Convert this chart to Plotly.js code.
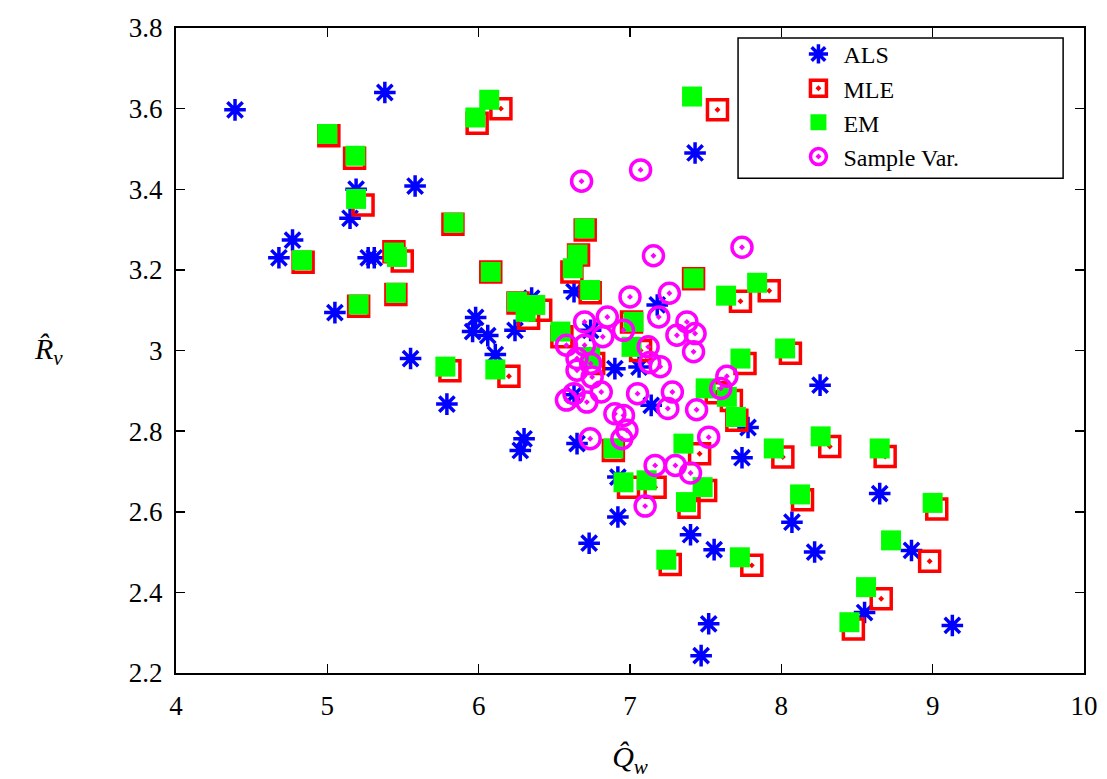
<!DOCTYPE html>
<html>
<head>
<meta charset="utf-8">
<script src="https://cdn.plot.ly/plotly-3.0.1.min.js"></script>
<style>html,body{margin:0;padding:0;background:#fff;}#chart{width:1107px;height:779px;}</style>
</head>
<body>
<div id="chart"></div>
<script>
// ALS estimates
const alsQ = [4.39,5.38,5.58,5.19,5.15,4.77,4.68,5.27,5.31,5.05,5.55,5.79,5.98,5.96,6.06,6.24,6.11,6.35,6.63,6.74,7.18,6.30,6.275,6.65,6.90,7.06,7.14,6.63,6.92,6.92,6.73,7.40,7.556,7.52,7.47,7.78,7.74,7.43,8.256,8.65,8.07,8.22,8.86,8.55,9.13];
const alsR = [3.597,3.64,3.408,3.40,3.328,3.274,3.23,3.23,3.23,3.094,2.98,2.867,3.082,3.047,3.037,3.05,2.99,3.13,3.146,3.05,3.113,2.781,2.752,2.769,2.955,2.959,2.864,2.89,2.686,2.587,2.522,2.543,2.506,2.322,2.243,2.809,2.734,3.49,2.914,2.645,2.574,2.50,2.504,2.35,2.318];

// MLE estimates
const mleQ = [5.01,5.18,5.236,5.83,4.84,5.44,5.495,5.453,5.207,5.99,6.147,7.578,6.704,6.66,6.616,6.08,6.737,7.42,7.73,7.92,6.26,6.41,6.33,6.55,7.01,7.07,6.76,5.81,6.20,7.76,7.57,7.67,7.706,8.06,6.89,6.99,7.166,7.46,7.50,7.39,7.266,7.805,8.01,8.32,8.686,8.14,9.027,8.98,8.66,8.476];
const mleR = [3.533,3.477,3.361,3.313,3.219,3.245,3.222,3.139,3.11,3.564,3.60,3.597,3.299,3.237,3.195,3.195,3.143,3.178,3.122,3.148,3.118,3.10,3.08,3.034,3.071,3.0,2.968,2.95,2.936,2.968,2.895,2.876,2.827,2.993,2.752,2.661,2.661,2.744,2.653,2.611,2.469,2.467,2.736,2.762,2.737,2.63,2.607,2.477,2.384,2.309];

// EM estimates
const emQ = [5.0,5.185,5.19,5.834,4.833,5.44,5.46,5.453,5.207,5.978,6.07,7.41,6.70,6.653,6.622,6.08,6.737,7.42,7.635,7.84,6.253,6.374,6.31,6.54,7.023,7.01,6.737,5.78,6.11,7.73,7.50,7.64,7.70,8.025,6.89,6.957,7.11,7.353,7.48,7.37,7.24,7.726,7.95,8.26,8.65,8.124,9.0,8.725,8.56,8.45];
const emR = [3.537,3.483,3.376,3.317,3.224,3.243,3.232,3.143,3.114,3.578,3.622,3.63,3.303,3.238,3.204,3.195,3.15,3.179,3.136,3.168,3.121,3.113,3.096,3.047,3.071,3.009,2.984,2.96,2.953,2.98,2.906,2.885,2.835,3.005,2.757,2.673,2.678,2.769,2.661,2.624,2.481,2.487,2.757,2.787,2.757,2.643,2.622,2.529,2.413,2.326];

// Sample variance estimates
const svQ = [6.68,7.07,7.155,7.74,7.0,7.26,7.19,7.376,7.43,7.31,7.42,6.70,6.85,6.957,6.82,6.58,6.70,7.12,6.65,6.74,6.65,6.75,6.63,6.81,7.05,7.13,7.20,7.64,7.60,7.28,6.58,6.715,7.25,7.44,6.90,6.957,6.98,6.946,6.737,7.52,7.166,7.30,7.40,7.10];
const svR = [3.42,3.448,3.235,3.256,3.133,3.142,3.083,3.071,3.042,3.038,2.997,3.071,3.083,3.05,3.034,3.013,3.013,3.009,2.98,2.968,2.951,2.934,2.893,2.897,2.893,2.97,2.96,2.936,2.906,2.897,2.877,2.872,2.856,2.853,2.843,2.839,2.802,2.781,2.781,2.785,2.715,2.715,2.696,2.614];

const seriesNames = ['ALS','MLE','EM','Sample Var.'];
const xTicks = [4,5,6,7,8,9,10];
const yTicks = [2.2,2.4,2.6,2.8,3,3.2,3.4,3.6,3.8];

const serif = 'Liberation Serif';

const traces = [
  {x: alsQ, y: alsR, name: seriesNames[0], mode: 'markers', type: 'scatter',
   marker: {symbol: 'asterisk-open', size: 18, color: '#0000ff', line: {color: '#0000ff', width: 3.5}}},
  {x: mleQ, y: mleR, name: seriesNames[1], mode: 'markers', type: 'scatter',
   marker: {symbol: 'square-open-dot', size: 20, color: '#ff0000', line: {color: '#ff0000', width: 3.5}}},
  {x: emQ, y: emR, name: seriesNames[2], mode: 'markers', type: 'scatter',
   marker: {symbol: 'square', size: 20, color: '#00ff00', line: {width: 0}}},
  {x: svQ, y: svR, name: seriesNames[3], mode: 'markers', type: 'scatter',
   marker: {symbol: 'circle-open-dot', size: 20, color: '#ff00ff', line: {color: '#ff00ff', width: 3.5}}}
];

const layout = {
  width: 1107, height: 779,
  margin: {l: 176, r: 23, t: 28, b: 106},
  paper_bgcolor: '#fff', plot_bgcolor: '#fff',
  font: {family: serif, size: 24, color: '#000'},
  xaxis: {
    range: [4, 10], tickmode: 'array', tickvals: xTicks, ticktext: xTicks.map(String),
    showgrid: false, zeroline: false, showline: true, linecolor: '#000', linewidth: 2,
    mirror: 'ticks', ticks: 'inside', ticklen: 9, tickwidth: 1.5, tickcolor: '#000',
    tickfont: {family: serif, size: 27, color: '#000'},
    ticklabelstandoff: 8,
    title: {text: '<i>Q̂</i><sub><i>w</i></sub>', font: {family: serif, size: 30, color: '#000'}, standoff: 26}
  },
  yaxis: {
    range: [2.2, 3.8], tickmode: 'array', tickvals: yTicks, ticktext: yTicks.map(String),
    showgrid: false, zeroline: false, showline: true, linecolor: '#000', linewidth: 2,
    mirror: 'ticks', ticks: 'inside', ticklen: 9, tickwidth: 1.5, tickcolor: '#000',
    tickfont: {family: serif, size: 27, color: '#000'},
    ticklabelstandoff: 6
  },
  showlegend: true,
  legend: {x: 0.68, y: 0.994, xanchor: 'left', yanchor: 'top', bgcolor: 'rgba(0,0,0,0)',
    borderwidth: 0, font: {family: serif, size: 24, color: '#000'},
    tracegroupgap: 0, itemwidth: 40},
  shapes: [
    {type: 'rect', xref: 'paper', yref: 'paper', x0: 0.619, x1: 0.977, y0: 0.767, y1: 0.9845,
     line: {color: '#000', width: 1.5}, fillcolor: '#fff', layer: 'above'}
  ],
  annotations: [
    {xref: 'paper', yref: 'paper', x: -0.14, y: 0.5, xanchor: 'center', yanchor: 'middle',
     text: '<i>R̂</i><sub><i>v</i></sub>', showarrow: false, font: {family: serif, size: 30, color: '#000'}}
  ]
};

Plotly.newPlot('chart', traces, layout, {displayModeBar: false, staticPlot: true});
</script>
</body>
</html>
